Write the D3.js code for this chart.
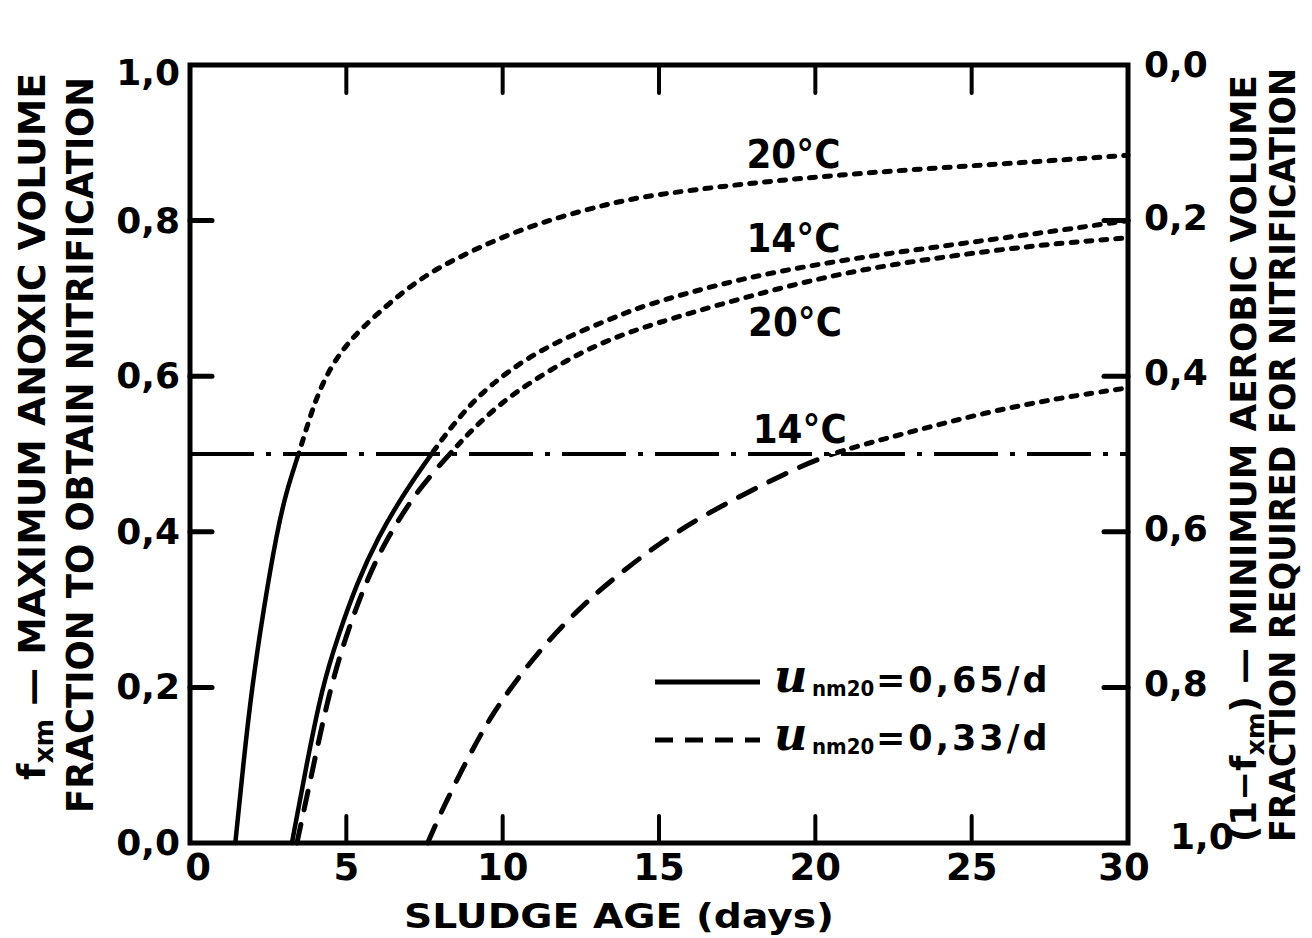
<!DOCTYPE html>
<html><head><meta charset="utf-8">
<script src="https://cdn.jsdelivr.net/npm/d3@7"></script>
<style>
body{margin:0;background:#fff}
text{font-family:"DejaVu Sans",sans-serif;font-weight:bold;fill:#000}
</style>
</head><body>
<svg id="c" width="1312" height="938"></svg>
<script>
// ---- data ----
const sludgeAgeTicks = [0, 5, 10, 15, 20, 25, 30];
const sludgeAgeTickLabels = ["0", "5", "10", "15", "20", "25", "30"];
const fxmTicks = [0, 0.2, 0.4, 0.6, 0.8, 1.0];
const fxmTickLabels = ["0,0", "0,2", "0,4", "0,6", "0,8", "1,0"];
const aerobicTicks = [0, 0.2, 0.4, 0.6, 0.8, 1.0];
const aerobicTickLabels = ["0,0", "0,2", "0,4", "0,6", "0,8", "1,0"];

// u_nm20 = 0,65/d, 20°C
const fast20Age = [1.45, 1.70, 1.98, 2.35, 2.78, 3.10, 3.48, 4.00, 4.50, 5.00, 5.50, 6.40, 7.45, 8.54, 10.14, 11.74, 13.34, 14.6, 17.6, 20.8, 24.0, 27.2, 30.0];
const fast20Fxm = [0.00, 0.10, 0.20, 0.30, 0.40, 0.455, 0.50, 0.57, 0.612, 0.640, 0.662, 0.695, 0.728, 0.752, 0.782, 0.804, 0.821, 0.832, 0.847, 0.859, 0.868, 0.876, 0.884];
// u_nm20 = 0,65/d, 14°C
const fast14Age = [3.26, 3.70, 4.22, 4.75, 5.35, 6.00, 6.85, 7.72, 8.30, 9.00, 9.60, 10.65, 11.74, 12.8, 13.85, 14.6, 17.6, 20.8, 24.0, 27.2, 30.0];
const fast14Fxm = [0.00, 0.095, 0.20, 0.268, 0.335, 0.392, 0.450, 0.50, 0.532, 0.565, 0.588, 0.620, 0.644, 0.663, 0.680, 0.692, 0.726, 0.749, 0.767, 0.784, 0.800];
// u_nm20 = 0,33/d, 20°C
const slow20Age = [3.42, 3.90, 4.48, 5.10, 5.70, 6.30, 7.30, 8.31, 9.05, 10.14, 11.2, 12.25, 13.34, 14.7, 17.6, 20.8, 24.0, 27.2, 30.0];
const slow20Fxm = [0.00, 0.09, 0.20, 0.28, 0.342, 0.392, 0.455, 0.50, 0.533, 0.572, 0.600, 0.625, 0.646, 0.666, 0.700, 0.733, 0.753, 0.769, 0.778];
// u_nm20 = 0,33/d, 14°C
const slow14Age = [7.60, 8.10, 8.86, 9.60, 10.45, 11.2, 12.05, 12.9, 13.8, 15.0, 16.3, 17.7, 19.0, 20.2, 21.5, 23.2, 25.5, 27.8, 30.0];
const slow14Fxm = [0.00, 0.046, 0.107, 0.162, 0.21, 0.248, 0.285, 0.318, 0.348, 0.385, 0.418, 0.448, 0.474, 0.496, 0.512, 0.530, 0.554, 0.572, 0.585];

const referenceFxm = 0.5;
const curveLabels = [
  {text: "20°C", age: 19.3, fxm: 0.868},
  {text: "14°C", age: 19.3, fxm: 0.760},
  {text: "20°C", age: 19.35, fxm: 0.652},
  {text: "14°C", age: 19.5, fxm: 0.514}
];

// ---- layout ----
const svg = d3.select("#c");
const x = d3.scaleLinear().domain([0, 30]).range([190, 1128]);
const y = d3.scaleLinear().domain([0, 1]).range([843, 65]);
const y2 = d3.scaleLinear().domain([0, 1]).range([65, 843]);

const series = [
  {age: fast20Age, fxm: fast20Fxm, low: "solid"},
  {age: fast14Age, fxm: fast14Fxm, low: "solid"},
  {age: slow20Age, fxm: slow20Fxm, low: "dash"},
  {age: slow14Age, fxm: slow14Fxm, low: "dash"}
];
const line = d3.line().x(d => x(d[0])).y(d => y(d[1])).curve(d3.curveBasis);

const defs = svg.append("defs");
defs.append("clipPath").attr("id", "below").append("rect")
  .attr("x", 0).attr("y", y(referenceFxm)).attr("width", 1312).attr("height", 938);
defs.append("clipPath").attr("id", "above").append("rect")
  .attr("x", 0).attr("y", 0).attr("width", 1312).attr("height", y(referenceFxm));

// reference line at 0.5
svg.append("line")
  .attr("x1", x(0)).attr("x2", x(30)).attr("y1", y(referenceFxm)).attr("y2", y(referenceFxm))
  .attr("stroke", "#000").attr("stroke-width", 4)
  .attr("stroke-dasharray", "64,12,5,12");

const styles = {
  solid: {w: 4.5, dash: null},
  dash: {w: 5, dash: "19,15"},
  dot: {w: 5, dash: "6,9"}
};
const curvesG = svg.append("g");
series.forEach(s => {
  const pts = s.age.map((a, i) => [a, s.fxm[i]]);
  curvesG.append("path").attr("d", line(pts)).attr("clip-path", "url(#below)")
    .attr("fill", "none").attr("stroke", "#000")
    .attr("stroke-width", styles[s.low].w).attr("stroke-dasharray", styles[s.low].dash)
    .attr("stroke-linecap", "round");
  curvesG.append("path").attr("d", line(pts)).attr("clip-path", "url(#above)")
    .attr("fill", "none").attr("stroke", "#000")
    .attr("stroke-width", styles.dot.w).attr("stroke-dasharray", styles.dot.dash)
    .attr("stroke-linecap", "round");
});

// frame
svg.append("rect").attr("x", x(0)).attr("y", y(1)).attr("width", x(30) - x(0)).attr("height", y(0) - y(1))
  .attr("fill", "none").attr("stroke", "#000").attr("stroke-width", 5);

// ticks
const innerX = sludgeAgeTicks.filter(t => t > 0 && t < 30);
svg.append("g").selectAll("line").data(innerX).join("line")
  .attr("x1", d => x(d)).attr("x2", d => x(d)).attr("y1", y(0)).attr("y2", y(0) - 27)
  .attr("stroke", "#000").attr("stroke-width", 4).attr("stroke-linecap", "round");
svg.append("g").selectAll("line").data(innerX).join("line")
  .attr("x1", d => x(d)).attr("x2", d => x(d)).attr("y1", y(1)).attr("y2", y(1) + 28)
  .attr("stroke", "#000").attr("stroke-width", 4).attr("stroke-linecap", "round");
const innerY = fxmTicks.filter(t => t > 0 && t < 1);
svg.append("g").selectAll("line").data(innerY).join("line")
  .attr("x1", x(0)).attr("x2", x(0) + 22).attr("y1", d => y(d)).attr("y2", d => y(d))
  .attr("stroke", "#000").attr("stroke-width", 5).attr("stroke-linecap", "round");
svg.append("g").selectAll("line").data(innerY).join("line")
  .attr("x1", x(30)).attr("x2", x(30) - 24).attr("y1", d => y(d)).attr("y2", d => y(d))
  .attr("stroke", "#000").attr("stroke-width", 5).attr("stroke-linecap", "round");

// tick labels
svg.append("g").selectAll("text").data(sludgeAgeTicks).join("text")
  .attr("x", (d, i) => x(d) + (i === 0 ? 8 : (i === 6 ? -4 : 0)))
  .attr("y", 880).attr("text-anchor", "middle").attr("font-size", 37)
  .text((d, i) => sludgeAgeTickLabels[i]);
svg.append("g").selectAll("text").data(fxmTicks).join("text")
  .attr("x", 180).attr("y", d => y(d) + 12 + (d === 1 ? 8 : 0))
  .attr("text-anchor", "end").attr("font-size", 36)
  .text((d, i) => fxmTickLabels[i]);
svg.append("g").selectAll("text").data(aerobicTicks).join("text")
  .attr("x", d => d === 1 ? 1170 : 1144).attr("y", d => y2(d) + 12 - (d === 1 ? 3 : 0) - (d === 0 ? 0 : 3))
  .attr("text-anchor", "start").attr("font-size", 36)
  .text((d, i) => aerobicTickLabels[i]);

// curve labels
svg.append("g").selectAll("text").data(curveLabels).join("text")
  .attr("x", d => x(d.age)).attr("y", d => y(d.fxm))
  .attr("text-anchor", "middle").attr("font-size", 39)
  .attr("textLength", 94).attr("lengthAdjust", "spacingAndGlyphs")
  .text(d => d.text);

// x title
svg.append("text").attr("x", 404).attr("y", 928).attr("font-size", 33)
  .attr("textLength", 430).attr("lengthAdjust", "spacingAndGlyphs")
  .text("SLUDGE  AGE (days)");

// left titles
const lt1 = svg.append("text").attr("transform", "translate(45,780) rotate(-90)")
  .attr("font-size", 37).attr("textLength", 707).attr("lengthAdjust", "spacingAndGlyphs");
lt1.append("tspan").text("f");
lt1.append("tspan").attr("font-size", 26).attr("dy", 8).text("xm");
lt1.append("tspan").attr("dy", -8).text(" — MAXIMUM  ANOXIC  VOLUME");
svg.append("text").attr("transform", "translate(93,813) rotate(-90)")
  .attr("font-size", 37).attr("textLength", 736).attr("lengthAdjust", "spacingAndGlyphs")
  .text("FRACTION TO OBTAIN NITRIFICATION");

// right titles
const rt1 = svg.append("text").attr("transform", "translate(1256,842) rotate(-90)")
  .attr("font-size", 35).attr("textLength", 767).attr("lengthAdjust", "spacingAndGlyphs");
rt1.append("tspan").text("(1−f");
rt1.append("tspan").attr("font-size", 25).attr("dy", 8).text("xm");
rt1.append("tspan").attr("dy", -8).text(") — MINIMUM  AEROBIC  VOLUME");
svg.append("text").attr("transform", "translate(1295,842) rotate(-90)")
  .attr("font-size", 36).attr("textLength", 774).attr("lengthAdjust", "spacingAndGlyphs")
  .text("FRACTION  REQUIRED FOR NITRIFICATION");

// legend
const legendItems = [
  {style: "solid", value: "=0,65/d", y: 682},
  {style: "dash", value: "=0,33/d", y: 740}
];
const lg = svg.append("g");
lg.selectAll("line").data(legendItems).join("line")
  .attr("x1", 655).attr("x2", 760).attr("y1", d => d.y).attr("y2", d => d.y)
  .attr("stroke", "#000").attr("stroke-width", 5)
  .attr("stroke-dasharray", d => d.style === "solid" ? null : "18,12");
lg.selectAll("g.t").data(legendItems).join("g").attr("class", "t").each(function(d) {
  const g = d3.select(this);
  const t = g.append("text").attr("x", 774).attr("y", d.y + 10);
  t.append("tspan").attr("font-size", 46).attr("font-family", "DejaVu Serif").attr("font-style", "italic").text("u");
  t.append("tspan").attr("x", 812).attr("dy", 4).attr("font-size", 22)
    .attr("font-family", "DejaVu Sans Condensed, DejaVu Sans").text("nm20");
  t.append("tspan").attr("x", 876).attr("dy", -4).attr("font-size", 35)
    .attr("letter-spacing", 3).text(d.value);
});
</script>
</body></html>
